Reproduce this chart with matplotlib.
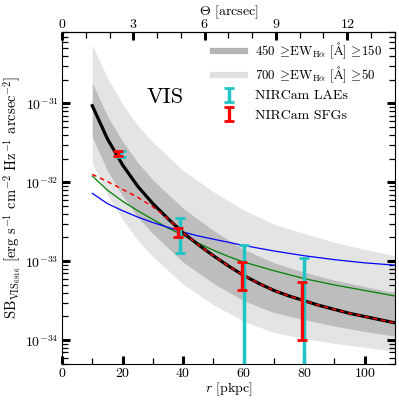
import numpy as np
import matplotlib.pyplot as plt
from matplotlib.ticker import LogLocator, MultipleLocator, NullFormatter

plt.rcParams["font.family"] = "serif"
plt.rcParams["font.serif"] = ["cmr10"]
plt.rcParams["mathtext.fontset"] = "cm"
plt.rcParams["axes.formatter.use_mathtext"] = True

# scale between the two x axes
kpc_per_arcsec = 7.85

# model profile (black) and SFG model (red dashed), log10 SB
r_model = [10, 15, 20, 25, 30, 35, 40, 45, 50, 55, 60, 65, 70, 75, 80, 85, 90, 95, 100, 105, 110]
log_model = [-31.03, -31.45, -31.78, -32.05, -32.27, -32.46, -32.64, -32.79, -32.93, -33.06, -33.18,
             -33.28, -33.37, -33.44, -33.50, -33.56, -33.61, -33.66, -33.70, -33.74, -33.78]
log_sfg_model = [-31.90, -31.99, -32.09, -32.19, -32.31, -32.46, -32.64, -32.79, -32.93, -33.06, -33.18,
                 -33.28, -33.37, -33.44, -33.50, -33.56, -33.61, -33.66, -33.70, -33.74, -33.78]

# green and blue profiles
r_line = [10, 15, 20, 25, 30, 35, 40, 45, 50, 55, 60, 70, 80, 90, 100, 110]
log_green = [-31.92, -32.10, -32.24, -32.36, -32.47, -32.58, -32.67, -32.77, -32.86, -32.94, -33.01,
             -33.12, -33.22, -33.30, -33.37, -33.44]
log_blue = [-32.14, -32.27, -32.36, -32.44, -32.51, -32.57, -32.63, -32.68, -32.72, -32.76, -32.80,
            -32.87, -32.93, -32.98, -33.02, -33.05]

# EW bands
r_band = [10, 15, 20, 25, 30, 40, 50, 60, 70, 80, 90, 100, 110]
log_dark_hi = [-30.74, -31.16, -31.48, -31.75, -31.97, -32.33, -32.61, -32.85, -33.02, -33.14, -33.24, -33.32, -33.40]
log_dark_lo = [-31.43, -31.85, -32.17, -32.44, -32.65, -33.01, -33.28, -33.50, -33.65, -33.74, -33.82, -33.89, -33.95]
log_light_hi = [-30.26, -30.68, -31.01, -31.28, -31.49, -31.85, -32.12, -32.35, -32.53, -32.65, -32.76, -32.85, -32.93]
log_light_lo = [-31.76, -32.16, -32.47, -32.73, -32.94, -33.29, -33.55, -33.76, -33.90, -33.98, -34.04, -34.09, -34.14]

# NIRCam measurements
r_lae = [19.5, 39.0, 60.0, 80.0]
log_lae = [-31.64, -32.66, -33.20, -33.50]
log_lae_lo = [-31.68, -32.90, -36.0, -36.0]
log_lae_hi = [-31.60, -32.45, -32.80, -32.96]

r_sfg = [18.5, 38.3, 59.3, 79.2]
log_sfg = [-31.64, -32.63, -33.18, -33.50]
log_sfg_lo = [-31.67, -32.69, -33.36, -34.00]
log_sfg_hi = [-31.61, -32.58, -33.01, -33.26]

y_ticks = [1e-34, 1e-33, 1e-32, 1e-31]

dark_label = r'450 $\!\geq\!\mathrm{EW}_{\mathrm{H}\alpha}$ [$\mathrm{\AA}$] $\!\geq\!$150'
light_label = r'700 $\!\geq\!\mathrm{EW}_{\mathrm{H}\alpha}$ [$\mathrm{\AA}$] $\!\geq\!$50'

fig = plt.figure(figsize=(3.99, 4.01), dpi=100)
ax = fig.add_axes([0.1554, 0.0923, 0.8346, 0.8279])

ax.fill_between(r_band, 10**np.array(log_light_lo), 10**np.array(log_light_hi), color='#e4e4e4', lw=0, zorder=1)
ax.fill_between(r_band, 10**np.array(log_dark_lo), 10**np.array(log_dark_hi), color='#bdbdbd', lw=0, zorder=2)

ax.plot(r_line, 10**np.array(log_green), color='green', lw=0.9, zorder=3)
ax.plot(r_line, 10**np.array(log_blue), color='blue', lw=0.9, zorder=3)
ax.plot(r_model, 10**np.array(log_model), color='black', lw=2.3, zorder=4)
ax.plot(r_model, 10**np.array(log_sfg_model), color='red', lw=1.1, ls=(0, (3, 2.5)), zorder=5)

lae = 10**np.array(log_lae)
lae_err = [lae - 10**np.array(log_lae_lo), 10**np.array(log_lae_hi) - lae]
e1 = ax.errorbar(r_lae, lae, yerr=lae_err, fmt='none', ecolor='#20c4c4', elinewidth=2.5,
                 capsize=3.8, capthick=2.0, zorder=6, label='NIRCam LAEs')
sfg = 10**np.array(log_sfg)
sfg_err = [sfg - 10**np.array(log_sfg_lo), 10**np.array(log_sfg_hi) - sfg]
e2 = ax.errorbar(r_sfg, sfg, yerr=sfg_err, fmt='none', ecolor='red', elinewidth=2.4,
                 capsize=3.8, capthick=2.0, zorder=7, label='NIRCam SFGs')

h1, = ax.plot([], [], color='#b4b4b4', lw=4.5, label=dark_label)
h2, = ax.plot([], [], color='#e0e0e0', lw=4.5, label=light_label)

ax.text(34, 10**-30.92, 'VIS', fontsize=16, ha='center', va='center')

ax.set_yscale('log')
ax.set_xlim(0, 110)
ax.set_ylim(5e-35, 8e-31)
ax.set_yticks(y_ticks)
ax.xaxis.set_major_locator(MultipleLocator(20))
ax.xaxis.set_minor_locator(MultipleLocator(10))
ax.yaxis.set_minor_locator(LogLocator(base=10, subs=np.arange(2, 10), numticks=20))
ax.yaxis.set_minor_formatter(NullFormatter())
ax.tick_params(which='both', direction='in', labelsize=10, pad=2.5, right=True, top=False)
ax.tick_params(which='major', length=6, width=2.2)
ax.tick_params(which='minor', length=4, width=0.9)

top = ax.secondary_xaxis('top', functions=(lambda r: r / kpc_per_arcsec, lambda a: a * kpc_per_arcsec))
top.set_xticks([0, 3, 6, 9, 12])
top.xaxis.set_minor_locator(MultipleLocator(1))
top.tick_params(which='both', direction='in', labelsize=10, pad=0.8)
top.tick_params(which='major', length=6, width=2.2)
top.tick_params(which='minor', length=4, width=0.9)
top.set_xlabel(r'$\Theta$ [arcsec]', fontsize=10, labelpad=1.6)

ax.set_xlabel(r'$r$ [pkpc]', fontsize=10, labelpad=0)
ax.set_ylabel(r'$\mathrm{SB}_{\mathrm{VIS}_{6816}}$ [erg s$^{-1}$ cm$^{-2}$ Hz$^{-1}$ arcsec$^{-2}$]',
              fontsize=10.5, labelpad=0.5)

leg1 = ax.legend(handles=[h1, h2], loc='upper left', bbox_to_anchor=(0.4535, 0.975), fontsize=9.3,
                 frameon=False, handlelength=2.48, handletextpad=0.78, labelspacing=0.28,
                 borderaxespad=0, borderpad=0)
ax.add_artist(leg1)
ax.legend(handles=[e1, e2], loc='upper left', bbox_to_anchor=(0.4535, 0.826), fontsize=10,
          frameon=False, handlelength=2.3, handletextpad=0.72, labelspacing=0.47,
          borderaxespad=0, borderpad=0)

fig.savefig('out.png', dpi=100)
